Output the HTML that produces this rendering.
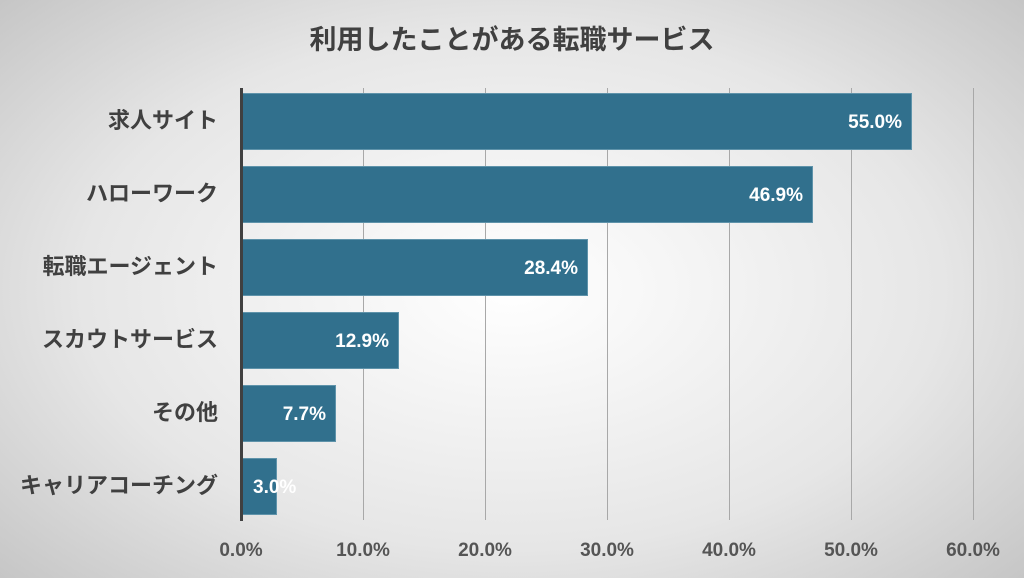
<!DOCTYPE html>
<html><head><meta charset="utf-8"><style>
body{margin:0;width:1024px;height:578px;overflow:hidden;background:radial-gradient(ellipse 70% 75% at 50% 50%,#ffffff 0%,#e6e6e6 60%,#c4c4c4 100%);font-family:"Liberation Sans","Noto Sans CJK JP",sans-serif;position:relative}
.t{position:absolute;font-weight:bold;color:#404040}
.g{position:absolute;top:88px;height:432px;width:1px;background:#a8a8a8}
.b{position:absolute;left:242px;background:#31708d;border:1px solid #5f93aa;box-sizing:border-box;color:#fff;font-weight:bold;font-size:19px;text-align:right;padding-right:9px}
.c{position:absolute;right:806px;font-size:22px;line-height:30px;color:#404040;font-weight:bold;white-space:nowrap}
.x{position:absolute;top:540px;font-size:19px;color:#555;font-weight:bold;width:90px;text-align:center}
</style></head><body>
<div class="t" style="left:0;width:1024px;top:18px;text-align:center;font-size:27px">利用したことがある転職サービス</div>
<div class="g" style="left:363px"></div><div class="g" style="left:485px"></div><div class="g" style="left:607px"></div><div class="g" style="left:729px"></div><div class="g" style="left:851px"></div><div class="g" style="left:973px"></div>
<div class="b" style="top:93px;height:57px;width:670px;line-height:57px">55.0%</div>
<div class="b" style="top:166px;height:57px;width:571px;line-height:57px">46.9%</div>
<div class="b" style="top:239px;height:57px;width:346px;line-height:57px">28.4%</div>
<div class="b" style="top:312px;height:57px;width:157px;line-height:57px">12.9%</div>
<div class="b" style="top:385px;height:57px;width:94px;line-height:57px">7.7%</div>
<div class="b" style="top:458px;height:57px;width:35px;line-height:57px;overflow:visible;white-space:nowrap;padding:0;text-align:left"><span style="position:absolute;left:10px">3.0%</span></div>
<div style="position:absolute;left:240px;top:88px;width:3px;height:433px;background:#404040"></div>
<div class="c" style="top:106px">求人サイト</div>
<div class="c" style="top:179px">ハローワーク</div>
<div class="c" style="top:252px">転職エージェント</div>
<div class="c" style="top:325px">スカウトサービス</div>
<div class="c" style="top:398px">その他</div>
<div class="c" style="top:471px">キャリアコーチング</div>
<div class="x" style="left:196px">0.0%</div><div class="x" style="left:318px">10.0%</div><div class="x" style="left:440px">20.0%</div><div class="x" style="left:562px">30.0%</div><div class="x" style="left:684px">40.0%</div><div class="x" style="left:806px">50.0%</div><div class="x" style="left:928px">60.0%</div>
</body></html>
